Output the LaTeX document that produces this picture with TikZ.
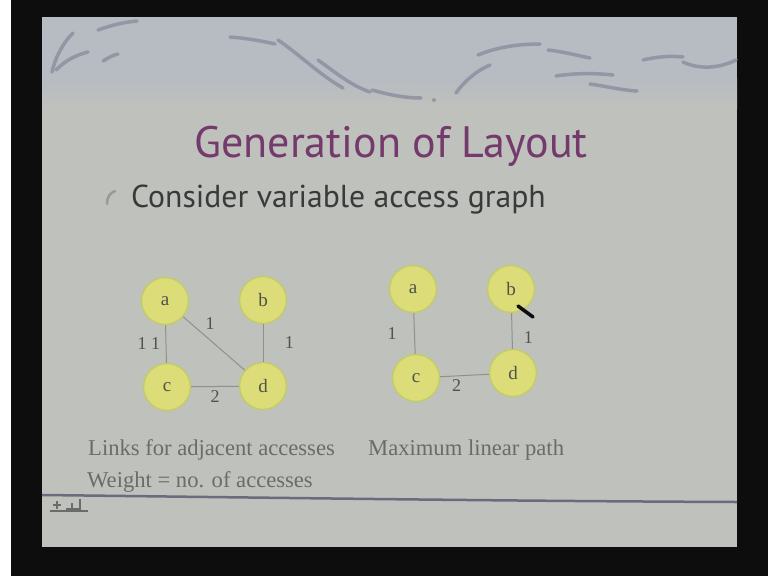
\documentclass[tikz,border=0pt]{standalone}
\usepackage{fontspec}
\setmainfont{Liberation Serif}
\newfontfamily\slidefont{PT Sans}
\definecolor{framebg}{HTML}{0C0D0C}
\definecolor{slidebg}{HTML}{BFC1BC}
\definecolor{headbg}{HTML}{B7BBC2}
\definecolor{swirlgray}{HTML}{9397A5}
\definecolor{titlepurple}{HTML}{743A6C}
\definecolor{bullettext}{HTML}{383B3A}
\definecolor{captiongray}{HTML}{6A6C6A}
\definecolor{nodefill}{HTML}{DCDC78}
\definecolor{nodeedge}{HTML}{C3CC6A}
\definecolor{nodetext}{HTML}{50524C}
\definecolor{linkgray}{HTML}{8E918C}
\definecolor{rulegray}{HTML}{686C7C}
\begin{document}
\begin{tikzpicture}[x=1pt, y=-1pt]
\tikzstyle{var_node} = [circle, draw=nodeedge, fill=nodefill, line width=1.5, minimum size=47, inner sep=0, text=nodetext, font=\fontsize{19}{19}\selectfont]
\tikzstyle{link_style} = [draw=linkgray, line width=1]
\tikzstyle{weight_style} = [text=nodetext, font=\fontsize{18}{18}\selectfont]
\tikzstyle{caption_style} = [text=captiongray, anchor=base west, inner sep=0, font=\fontsize{22.6}{22.6}\selectfont]
\tikzstyle{swirl_style} = [draw=swirlgray, line width=3.5, line cap=round]

\useasboundingbox (0,0) rectangle (768,576);
% frame and slide
\fill[white] (0,0) rectangle (11,576);
\fill[framebg] (11,0) rectangle (768,576);
\fill[slidebg] (42,17) rectangle (737,547);
\fill[headbg] (42,17) rectangle (737,78);
\shade[top color=headbg, bottom color=slidebg] (42,78) rectangle (737,108);

% header swirls
\draw[swirl_style] (52,72) .. controls (56,55) and (64,42) .. (73,33);
\draw[swirl_style] (56,70) .. controls (66,60) and (76,55) .. (88,52);
\draw[swirl_style] (98,30) .. controls (112,25) and (125,22) .. (137,21);
\draw[swirl_style] (103,61) .. controls (108,58) and (113,55) .. (118,54);
\draw[swirl_style] (230,37) .. controls (245,38) and (262,41) .. (275,44);
\draw[swirl_style] (278,40) .. controls (300,55) and (320,75) .. (343,88);
\draw[swirl_style] (318,60) .. controls (335,72) and (350,85) .. (370,92);
\draw[swirl_style] (372,90) .. controls (390,95) and (405,98) .. (421,98);
\draw[swirl_style] (456,93) .. controls (465,80) and (478,70) .. (490,65);
\draw[swirl_style] (478,55) .. controls (495,48) and (515,44) .. (540,44);
\draw[swirl_style] (548,50) .. controls (565,52) and (575,55) .. (590,58);
\draw[swirl_style] (556,76) .. controls (575,73) and (595,73) .. (613,75);
\draw[swirl_style] (590,84) .. controls (605,86) and (620,90) .. (637,91);
\draw[swirl_style] (643,60) .. controls (660,56) and (672,56) .. (683,57);
\draw[swirl_style] (683,62) .. controls (700,70) and (720,68) .. (736,60);
\fill[swirlgray] (434,100) circle (2);

% title and bullet
\node[text=titlepurple, anchor=base, inner sep=0, font=\slidefont\fontsize{44}{44}\selectfont] (title) at (391,157) {Generation of Layout};
\node[text=bullettext, anchor=base west, inner sep=0, font=\slidefont\fontsize{31.7}{31.7}\selectfont] (bullet) at (131,207) {Consider variable access graph};
\draw[draw=gray!60!slidebg, line width=2.5, line cap=round] (107,204) .. controls (107,197) and (110,193) .. (115,191);

% access graph
\node[var_node] (ga) at (165,301) {a};
\node[var_node] (gb) at (263,300) {b};
\node[var_node] (gc) at (167,387) {c};
\node[var_node] (gd) at (263,386) {d};
\draw[link_style] (ga) edge node[left, weight_style, xshift=-2]{1 1} (gc);
\draw[link_style] (ga) edge node[above right, weight_style, pos=0.3]{1} (gd);
\draw[link_style] (gb) edge node[right, weight_style, xshift=18]{1} (gd);
\draw[link_style] (gc) edge node[below, weight_style]{2} (gd);

% maximum linear path
\node[var_node] (pa) at (413,289) {a};
\node[var_node] (pb) at (511,289) {b};
\node[var_node] (pc) at (416,378) {c};
\node[var_node] (pd) at (513,373) {d};
\draw[link_style] (pa) edge node[left, weight_style, xshift=-14]{1} (pc);
\draw[link_style] (pb) edge node[right, weight_style, xshift=8, yshift=-7]{1} (pd);
\draw[link_style] (pc) edge node[below, weight_style, xshift=-8]{2} (pd);
\draw[draw=framebg, line width=3.5, line cap=round] (518,306) -- (533,317);

% captions
\node[caption_style] (links) at (88,455) {Links for adjacent accesses};
\node[caption_style] (maxpath) at (368,455) {Maximum linear path};
\node[caption_style] (weight) at (87,487) {Weight = no. of accesses};

% footer rule and icon
\draw[draw=rulegray, line width=2.5] (42,495) .. controls (300,498) and (500,501) .. (737,502);
\draw[draw=captiongray, line width=1.2] (50,511) -- (88,511);
\draw[draw=captiongray, line width=1.2] (53,505) -- (61,505) (57,501) -- (57,509);
\draw[draw=captiongray, line width=1.2] (66,509) -- (80,509) -- (80,499) (72,503) -- (72,509);
\end{tikzpicture}
\end{document}
